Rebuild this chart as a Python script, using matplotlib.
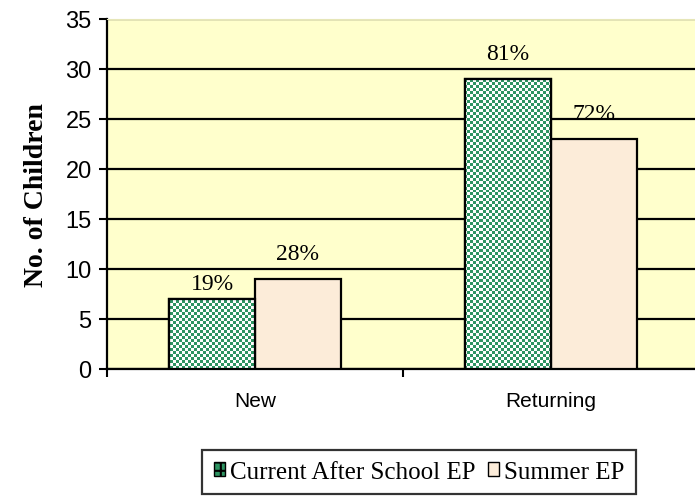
import numpy as np
import matplotlib.pyplot as plt
from matplotlib.colors import ListedColormap
from matplotlib.patches import Patch

# ---------------------------------------------------------------------
# DATA
# ---------------------------------------------------------------------
categories = ["New", "Returning"]
series_names = ["Current After School EP", "Summer EP"]
after_school = [7, 29]
summer = [9, 23]
after_school_pct = ["19%", "81%"]
summer_pct = ["28%", "72%"]

# ---------------------------------------------------------------------
# STYLE
# ---------------------------------------------------------------------
GREEN = "#2e9462"
BEIGE = "#fcecd9"
PLOT_BG = "#ffffcc"
SERIF = "Liberation Serif"
SANS = "Liberation Sans"
BAR_W = 0.29
# label offsets (points above the bar top)
after_off = [11, 18]
summer_off = [18, 18]

plt.rcParams["hatch.color"] = "white"
plt.rcParams["hatch.linewidth"] = 1.5

fig = plt.figure(figsize=(6.95, 5.02), dpi=100)
ax = fig.add_axes([107 / 695, 132 / 502, 592 / 695, 350 / 502])
ax.set_facecolor(PLOT_BG)

x = np.arange(len(categories))
bars_a = ax.bar(x - BAR_W / 2, after_school, BAR_W, color="white",
                edgecolor="black", linewidth=1.6, zorder=3)
bars_s = ax.bar(x + BAR_W / 2, summer, BAR_W, color=BEIGE,
                edgecolor="black", linewidth=1.6, zorder=3)

# checkerboard fill for the green series, clipped to each bar
ny, nx = 117, 197
checker = (np.add.outer(np.arange(ny), np.arange(nx)) % 2).astype(float)
cmap = ListedColormap(["white", GREEN])
for b in bars_a:
    im = ax.imshow(checker, cmap=cmap, extent=(0, 1, 0, 1),
                   transform=ax.transAxes, interpolation="none",
                   aspect="auto", zorder=3.5)
    im.set_clip_path(b)
    ax.bar(b.get_x() + b.get_width() / 2, b.get_height(), b.get_width(),
           color="none", edgecolor="black", linewidth=1.6, zorder=4)

for b, txt, off in zip(bars_a, after_school_pct, after_off):
    ax.annotate(txt, (b.get_x() + b.get_width() / 2, b.get_height()),
                xytext=(0, off), textcoords="offset points", ha="center",
                va="center", fontsize=17, family=SERIF, zorder=5)
for b, txt, off in zip(bars_s, summer_pct, summer_off):
    ax.annotate(txt, (b.get_x() + b.get_width() / 2, b.get_height()),
                xytext=(0, off), textcoords="offset points", ha="center",
                va="center", fontsize=17, family=SERIF, zorder=5)

ax.set_xlim(-0.5, 1.5)
ax.set_ylim(0, 35)
ax.set_yticks(range(0, 36, 5))
ax.yaxis.grid(True, color="black", linewidth=1.6, zorder=1)
ax.set_axisbelow(True)

ax.set_xticks(x)
ax.set_xticklabels(categories, fontsize=15, family=SANS)
ax.set_xticks([-0.5, 0.5, 1.5], minor=True)
ax.tick_params(axis="x", which="major", length=0, pad=16)
ax.tick_params(axis="x", which="minor", length=6, width=1.5, direction="out")
ax.tick_params(axis="y", length=6, width=1.5, direction="out", pad=5)
for lab in ax.get_yticklabels():
    lab.set_fontsize(17)
    lab.set_family(SANS)

ax.spines["left"].set_linewidth(1.6)
ax.spines["bottom"].set_linewidth(1.6)
ax.spines["top"].set_color("#e6e6b8")
ax.spines["right"].set_visible(False)

ax.set_ylabel("No. of Children", fontsize=20, family=SERIF,
              fontweight="bold", labelpad=12)

handles = [
    Patch(facecolor=GREEN, edgecolor="black", hatch="++", linewidth=1),
    Patch(facecolor=BEIGE, edgecolor="black", linewidth=1),
]
leg = fig.legend(handles, series_names, loc="center",
                 bbox_to_anchor=(419 / 695, 1 - 473 / 502),
                 ncol=2, frameon=True, fancybox=False, edgecolor="black",
                 prop={"family": SERIF, "size": 18},
                 handlelength=0.45, handleheight=0.45, handletextpad=0.2,
                 columnspacing=0.5, borderpad=0.45)
leg.get_frame().set_linewidth(1.6)

fig.savefig("out.png", dpi=100)
